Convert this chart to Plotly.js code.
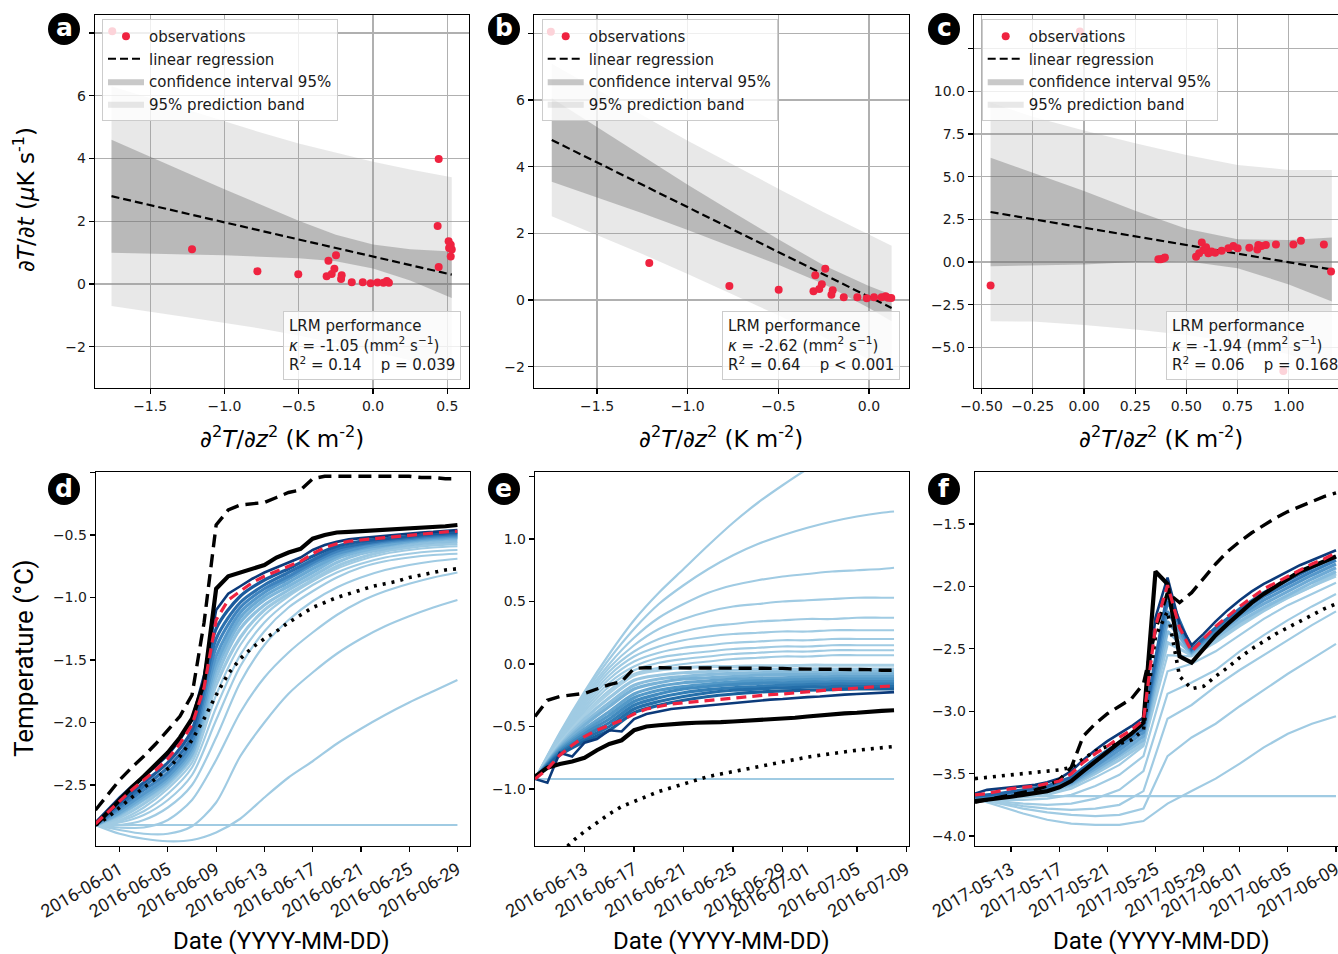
<!DOCTYPE html>
<html><head><meta charset="utf-8">
<script src="https://cdn.plot.ly/plotly-3.0.1.min.js"></script>
<style>html,body{margin:0;padding:0;background:#fff}#chart{width:1338px;height:954px}</style>
</head><body><div id="chart"></div>
<script>
// ================= Panel a =================
const a_obs_x = [-1.755,-1.218,-0.778,-0.503,-0.300,-0.249,-0.312,-0.278,-0.260,-0.211,-0.215,-0.143,-0.069,-0.016,0.030,0.070,0.093,0.107,0.442,0.435,0.442,0.509,0.523,0.530,0.512,0.523];
const a_obs_y = [8.05,1.11,0.41,0.31,0.74,0.92,0.25,0.32,0.49,0.28,0.16,0.06,0.06,0.03,0.05,0.04,0.10,0.04,3.98,1.85,0.54,1.36,1.25,1.10,1.15,0.88];
const a_band_x = [-1.76,-1.5,-1.25,-1.0,-0.75,-0.5,-0.25,0.0,0.25,0.53];
const a_fit    = [2.80,2.52,2.24,1.97,1.70,1.42,1.15,0.88,0.61,0.30];
const a_ci_hi  = [4.60,4.07,3.54,3.02,2.52,2.02,1.57,1.26,1.11,1.04];
const a_ci_lo  = [1.00,0.97,0.94,0.92,0.88,0.82,0.73,0.50,0.11,-0.44];
const a_pb_hi  = [6.30,5.92,5.54,5.17,4.82,4.48,4.18,3.90,3.65,3.40];
const a_pb_lo  = [-0.70,-0.88,-1.06,-1.23,-1.42,-1.64,-1.88,-2.14,-2.43,-2.80];
const a_xticks = [-1.5,-1.0,-0.5,0.0,0.5];
const a_xlabels = ['\u22121.5','\u22121.0','\u22120.5','0.0','0.5'];
const a_yticks = [-2,0,2,4,6,8];
const a_ylabels = ['\u22122','0','2','4','6',''];
const a_stats = ['-1.05','0.14','p = 0.039'];

// ================= Panel b =================
const b_obs_x = [-1.755,-1.212,-0.770,-0.498,-0.296,-0.241,-0.306,-0.274,-0.260,-0.200,-0.207,-0.139,-0.064,-0.012,0.028,0.070,0.092,0.105,0.123];
const b_obs_y = [8.05,1.11,0.42,0.31,0.74,0.94,0.26,0.33,0.47,0.29,0.16,0.08,0.08,0.05,0.08,0.08,0.11,0.07,0.06];
const b_band_x = [-1.75,-1.5,-1.25,-1.0,-0.75,-0.5,-0.25,0.0,0.125];
const b_fit    = [4.80,4.13,3.46,2.78,2.11,1.44,0.76,0.09,-0.24];
const b_ci_hi  = [6.05,5.18,4.32,3.46,2.63,1.82,1.04,0.42,0.16];
const b_ci_lo  = [3.55,3.08,2.60,2.10,1.59,1.06,0.48,-0.24,-0.64];
const b_pb_hi  = [7.09,6.31,5.54,4.78,4.05,3.34,2.63,1.95,1.63];
const b_pb_lo  = [2.51,1.95,1.38,0.78,0.17,-0.46,-1.11,-1.77,-2.11];
const b_xticks = [-1.5,-1.0,-0.5,0.0];
const b_xlabels = ['\u22121.5','\u22121.0','\u22120.5','0.0'];
const b_yticks = [-2,0,2,4,6,8];
const b_ylabels = ['\u22122','0','2','4','6',''];
const b_stats = ['-2.62','0.64','p &lt; 0.001'];

// ================= Panel c =================
const c_obs_x = [-0.02,0.973,-0.456,0.363,0.374,0.387,0.395,0.547,0.575,0.562,0.583,0.596,0.607,0.623,0.640,0.672,0.705,0.729,0.750,0.807,0.846,0.851,0.867,0.888,0.937,1.022,1.059,1.171,1.206];
const c_obs_y = [13.5,-6.39,-1.37,0.16,0.16,0.21,0.26,0.31,1.15,0.51,0.70,0.86,0.51,0.61,0.55,0.66,0.80,0.94,0.80,0.84,0.74,0.99,0.94,0.99,1.03,1.03,1.24,1.03,-0.56];
const c_band_x = [-0.456,-0.25,0.0,0.25,0.5,0.75,1.0,1.21];
const c_fit    = [2.93,2.51,2.01,1.50,1.00,0.49,-0.01,-0.44];
const c_ci_hi  = [6.11,5.21,4.16,3.00,1.95,1.34,1.29,1.43];
const c_ci_lo  = [-0.25,-0.19,-0.14,0.00,0.05,-0.36,-1.31,-2.31];
const c_pb_hi  = [9.33,8.51,7.71,6.95,6.27,5.69,5.39,5.39];
const c_pb_lo  = [-3.47,-3.49,-3.69,-3.95,-4.27,-4.71,-5.41,-6.27];
const c_xticks = [-0.5,-0.25,0.0,0.25,0.5,0.75,1.0];
const c_xlabels = ['\u22120.50','\u22120.25','0.00','0.25','0.50','0.75','1.00'];
const c_yticks = [-5,-2.5,0,2.5,5,7.5,10,12.5];
const c_ylabels = ['\u22125.0','\u22122.5','0.0','2.5','5.0','7.5','10.0',''];
const c_stats = ['-1.94','0.06','p = 0.168'];

// ================= Panel d =================
const d_dates = ['2016-05-30','2016-05-31','2016-06-01','2016-06-02','2016-06-03','2016-06-04','2016-06-05','2016-06-06','2016-06-07','2016-06-08','2016-06-09','2016-06-10','2016-06-11','2016-06-12','2016-06-13','2016-06-14','2016-06-15','2016-06-16','2016-06-17','2016-06-18','2016-06-19','2016-06-20','2016-06-21','2016-06-22','2016-06-23','2016-06-24','2016-06-25','2016-06-26','2016-06-27','2016-06-28','2016-06-29'];
const d_obs   = [-2.82,-2.72,-2.61,-2.52,-2.43,-2.34,-2.24,-2.12,-1.97,-1.68,-0.93,-0.83,-0.80,-0.77,-0.74,-0.68,-0.64,-0.61,-0.53,-0.50,-0.48,-0.475,-0.47,-0.465,-0.46,-0.455,-0.45,-0.445,-0.44,-0.43,-0.42];
const d_upper = [-2.70,-2.58,-2.46,-2.36,-2.27,-2.17,-2.06,-1.95,-1.78,-1.20,-0.42,-0.30,-0.26,-0.25,-0.24,-0.20,-0.16,-0.14,-0.05,-0.03,-0.03,-0.03,-0.03,-0.03,-0.03,-0.03,-0.03,-0.04,-0.04,-0.05,-0.05];
const d_lower = [-2.82,-2.76,-2.68,-2.60,-2.52,-2.45,-2.37,-2.27,-2.14,-1.97,-1.78,-1.61,-1.49,-1.40,-1.33,-1.27,-1.20,-1.14,-1.08,-1.04,-1.00,-0.97,-0.94,-0.91,-0.89,-0.87,-0.84,-0.82,-0.80,-0.78,-0.77];
const d_best  = [-2.81,-2.72,-2.63,-2.54,-2.46,-2.38,-2.29,-2.17,-2.02,-1.72,-1.18,-1.02,-0.95,-0.88,-0.83,-0.79,-0.75,-0.71,-0.65,-0.60,-0.57,-0.55,-0.54,-0.53,-0.52,-0.51,-0.50,-0.49,-0.48,-0.475,-0.47];
const d_navy  = [-2.80,-2.70,-2.60,-2.51,-2.43,-2.35,-2.26,-2.14,-1.98,-1.62,-1.10,-0.97,-0.91,-0.85,-0.80,-0.76,-0.72,-0.68,-0.62,-0.58,-0.555,-0.535,-0.525,-0.515,-0.505,-0.495,-0.49,-0.48,-0.475,-0.465,-0.46];
const d_sdates = ['2016-05-30','2016-06-01','2016-06-03','2016-06-05','2016-06-07','2016-06-09','2016-06-11','2016-06-13','2016-06-15','2016-06-17','2016-06-19','2016-06-21','2016-06-23','2016-06-25','2016-06-27','2016-06-29'];
const d_fan1 = [-2.81,-2.64,-2.48,-2.32,-2.06,-1.25,-0.99,-0.86,-0.77,-0.67,-0.59,-0.55,-0.53,-0.51,-0.49,-0.48];
const d_fan2 = [-2.81,-2.66,-2.51,-2.36,-2.11,-1.33,-1.04,-0.90,-0.80,-0.70,-0.61,-0.57,-0.54,-0.52,-0.50,-0.49];
const d_fan3 = [-2.82,-2.68,-2.54,-2.40,-2.15,-1.40,-1.08,-0.93,-0.83,-0.72,-0.63,-0.58,-0.55,-0.53,-0.51,-0.50];
const d_fan4 = [-2.82,-2.70,-2.57,-2.43,-2.19,-1.47,-1.12,-0.96,-0.85,-0.74,-0.65,-0.60,-0.56,-0.54,-0.52,-0.51];
const d_fan5 = [-2.82,-2.72,-2.59,-2.45,-2.22,-1.53,-1.16,-0.99,-0.88,-0.77,-0.67,-0.61,-0.58,-0.55,-0.53,-0.52];
const d_fan6 = [-2.82,-2.73,-2.61,-2.47,-2.25,-1.58,-1.20,-1.02,-0.91,-0.80,-0.69,-0.63,-0.59,-0.56,-0.54,-0.53];
const d_fan7 = [-2.82,-2.74,-2.62,-2.48,-2.26,-1.64,-1.25,-1.06,-0.94,-0.83,-0.72,-0.65,-0.61,-0.58,-0.56,-0.55];
const d_fan8 = [-2.82,-2.76,-2.65,-2.50,-2.28,-1.70,-1.32,-1.10,-0.97,-0.86,-0.75,-0.68,-0.63,-0.60,-0.58,-0.57];
const d_ens1 = [-2.82,-2.78,-2.68,-2.53,-2.32,-1.78,-1.38,-1.14,-0.99,-0.87,-0.77,-0.70,-0.65,-0.62,-0.60,-0.59];
const d_ens2 = [-2.82,-2.79,-2.71,-2.57,-2.36,-1.88,-1.46,-1.20,-1.03,-0.90,-0.80,-0.73,-0.68,-0.65,-0.63,-0.62];
const d_ens3 = [-2.82,-2.80,-2.74,-2.62,-2.42,-1.98,-1.55,-1.27,-1.08,-0.95,-0.84,-0.76,-0.71,-0.68,-0.66,-0.65];
const d_ens4 = [-2.82,-2.82,-2.78,-2.68,-2.50,-2.12,-1.68,-1.38,-1.18,-1.03,-0.92,-0.84,-0.78,-0.74,-0.71,-0.69];
const d_ens5 = [-2.82,-2.84,-2.84,-2.78,-2.62,-2.30,-1.92,-1.64,-1.44,-1.28,-1.14,-1.03,-0.95,-0.89,-0.84,-0.80];
const d_ens6 = [-2.82,-2.86,-2.89,-2.89,-2.83,-2.64,-2.27,-2.00,-1.77,-1.60,-1.45,-1.33,-1.23,-1.15,-1.08,-1.02];
const d_ens7 = [-2.82,-2.89,-2.93,-2.95,-2.94,-2.88,-2.77,-2.60,-2.44,-2.31,-2.17,-2.05,-1.94,-1.84,-1.75,-1.66];
const d_ens8 = [-2.82,-2.82,-2.82,-2.82,-2.82,-2.82,-2.82,-2.82,-2.82,-2.82,-2.82,-2.82,-2.82,-2.82,-2.82,-2.82];
const d_xticks = ['2016-06-01','2016-06-05','2016-06-09','2016-06-13','2016-06-17','2016-06-21','2016-06-25','2016-06-29'];
const d_yticks = [-2.5,-2.0,-1.5,-1.0,-0.5,0.0];
const d_ylabels = ['\u22122.5','\u22122.0','\u22121.5','\u22121.0','\u22120.5',''];

// ================= Panel e =================
const e_dates = ['2016-06-09','2016-06-10','2016-06-11','2016-06-12','2016-06-13','2016-06-14','2016-06-15','2016-06-16','2016-06-17','2016-06-18','2016-06-19','2016-06-20','2016-06-21','2016-06-22','2016-06-23','2016-06-24','2016-06-25','2016-06-26','2016-06-27','2016-06-28','2016-06-29','2016-06-30','2016-07-01','2016-07-02','2016-07-03','2016-07-04','2016-07-05','2016-07-06','2016-07-07','2016-07-08'];
const e_obs   = [-0.90,-0.83,-0.80,-0.78,-0.75,-0.69,-0.64,-0.61,-0.53,-0.50,-0.49,-0.48,-0.475,-0.47,-0.47,-0.465,-0.46,-0.455,-0.45,-0.44,-0.435,-0.43,-0.42,-0.41,-0.40,-0.395,-0.39,-0.38,-0.375,-0.37];
const e_upper = [-0.42,-0.29,-0.26,-0.245,-0.235,-0.20,-0.165,-0.14,-0.035,-0.03,-0.03,-0.03,-0.03,-0.03,-0.03,-0.03,-0.03,-0.035,-0.035,-0.035,-0.035,-0.04,-0.04,-0.04,-0.04,-0.04,-0.045,-0.045,-0.05,-0.05];
const e_lower = [-1.80,-1.64,-1.52,-1.42,-1.34,-1.27,-1.20,-1.14,-1.10,-1.06,-1.02,-0.99,-0.96,-0.93,-0.90,-0.88,-0.86,-0.84,-0.82,-0.80,-0.78,-0.76,-0.745,-0.73,-0.715,-0.70,-0.69,-0.68,-0.67,-0.66];
const e_best  = [-0.92,-0.84,-0.73,-0.65,-0.58,-0.53,-0.49,-0.45,-0.40,-0.36,-0.34,-0.32,-0.31,-0.30,-0.29,-0.28,-0.27,-0.26,-0.25,-0.245,-0.24,-0.23,-0.22,-0.21,-0.205,-0.20,-0.19,-0.185,-0.18,-0.175];
const e_navy  = [-0.92,-0.95,-0.71,-0.74,-0.63,-0.60,-0.53,-0.54,-0.44,-0.40,-0.38,-0.36,-0.35,-0.34,-0.33,-0.32,-0.31,-0.30,-0.29,-0.285,-0.28,-0.27,-0.265,-0.26,-0.25,-0.245,-0.24,-0.235,-0.23,-0.225];
const e_sdates = ['2016-06-09','2016-06-11','2016-06-13','2016-06-15','2016-06-17','2016-06-19','2016-06-21','2016-06-23','2016-06-25','2016-06-27','2016-06-29','2016-07-01','2016-07-03','2016-07-05','2016-07-07','2016-07-08'];
const e_ens1  = [-0.92,-0.55,-0.22,0.08,0.35,0.57,0.76,0.95,1.13,1.29,1.43,1.56,1.67,1.77,1.85,1.89];
const e_ens2  = [-0.92,-0.56,-0.24,0.04,0.28,0.48,0.63,0.76,0.87,0.96,1.03,1.09,1.14,1.18,1.21,1.22];
const e_ens3  = [-0.92,-0.57,-0.26,0.00,0.21,0.37,0.48,0.57,0.63,0.67,0.70,0.72,0.74,0.75,0.76,0.77];
const e_ens4  = [-0.92,-0.58,-0.28,-0.03,0.15,0.28,0.36,0.42,0.46,0.48,0.50,0.51,0.52,0.53,0.53,0.53];
const e_ens5  = [-0.92,-0.59,-0.30,-0.06,0.10,0.20,0.26,0.30,0.32,0.34,0.35,0.36,0.36,0.37,0.37,0.37];
const e_ens6  = [-0.92,-0.60,-0.32,-0.09,0.06,0.14,0.19,0.22,0.24,0.25,0.26,0.26,0.27,0.27,0.27,0.27];
const e_ens7  = [-0.92,-0.61,-0.34,-0.12,0.02,0.09,0.13,0.15,0.17,0.18,0.19,0.19,0.20,0.20,0.20,0.20];
const e_ens8  = [-0.92,-0.62,-0.36,-0.15,-0.02,0.05,0.08,0.10,0.12,0.13,0.14,0.14,0.15,0.15,0.15,0.15];
const e_ens9  = [-0.92,-0.63,-0.38,-0.18,-0.05,0.01,0.04,0.06,0.08,0.09,0.10,0.10,0.11,0.11,0.11,0.11];
const e_ens10 = [-0.92,-0.64,-0.40,-0.21,-0.08,-0.03,0.00,0.02,0.04,0.05,0.06,0.06,0.07,0.07,0.07,0.07];
const e_ens11 = [-0.92,-0.92,-0.92,-0.92,-0.92,-0.92,-0.92,-0.92,-0.92,-0.92,-0.92,-0.92,-0.92,-0.92,-0.92,-0.92];
const e_fan1  = [-0.92,-0.64,-0.41,-0.23,-0.09,-0.05,-0.03,-0.02,-0.02,-0.015,-0.015,-0.01,-0.01,-0.01,-0.01,-0.01];
const e_fan2  = [-0.92,-0.65,-0.44,-0.27,-0.13,-0.09,-0.07,-0.06,-0.05,-0.045,-0.045,-0.04,-0.04,-0.04,-0.04,-0.04];
const e_fan3  = [-0.92,-0.66,-0.47,-0.31,-0.17,-0.12,-0.10,-0.085,-0.075,-0.07,-0.065,-0.065,-0.06,-0.06,-0.06,-0.06];
const e_fan4  = [-0.92,-0.67,-0.49,-0.34,-0.20,-0.15,-0.12,-0.11,-0.10,-0.09,-0.085,-0.085,-0.08,-0.08,-0.08,-0.08];
const e_fan5  = [-0.92,-0.68,-0.52,-0.38,-0.24,-0.18,-0.15,-0.135,-0.12,-0.115,-0.11,-0.105,-0.10,-0.10,-0.10,-0.10];
const e_fan6  = [-0.92,-0.69,-0.54,-0.41,-0.27,-0.21,-0.18,-0.16,-0.145,-0.135,-0.13,-0.125,-0.12,-0.12,-0.12,-0.12];
const e_fan7  = [-0.92,-0.70,-0.56,-0.44,-0.30,-0.24,-0.20,-0.18,-0.165,-0.155,-0.15,-0.145,-0.14,-0.14,-0.14,-0.14];
const e_fan8  = [-0.92,-0.71,-0.58,-0.47,-0.33,-0.27,-0.23,-0.205,-0.19,-0.18,-0.17,-0.165,-0.16,-0.16,-0.16,-0.16];
const e_fan9  = [-0.92,-0.72,-0.60,-0.50,-0.36,-0.30,-0.26,-0.23,-0.21,-0.20,-0.19,-0.185,-0.18,-0.18,-0.18,-0.18];
const e_fan10 = [-0.92,-0.73,-0.62,-0.53,-0.39,-0.33,-0.29,-0.26,-0.24,-0.225,-0.215,-0.21,-0.205,-0.20,-0.20,-0.20];
const e_xticks = ['2016-06-13','2016-06-17','2016-06-21','2016-06-25','2016-06-29','2016-07-01','2016-07-05','2016-07-09'];
const e_yticks = [-1.0,-0.5,0.0,0.5,1.0,1.5];
const e_ylabels = ['\u22121.0','\u22120.5','0.0','0.5','1.0',''];

// ================= Panel f =================
const f_dates = ['2017-05-10','2017-05-11','2017-05-12','2017-05-13','2017-05-14','2017-05-15','2017-05-16','2017-05-17','2017-05-18','2017-05-19','2017-05-20','2017-05-21','2017-05-22','2017-05-23','2017-05-24','2017-05-25','2017-05-26','2017-05-27','2017-05-28','2017-05-29','2017-05-30','2017-05-31','2017-06-01','2017-06-02','2017-06-03','2017-06-04','2017-06-05','2017-06-06','2017-06-07','2017-06-08','2017-06-09'];
const f_obs   = [-3.72,-3.71,-3.70,-3.685,-3.67,-3.655,-3.64,-3.61,-3.56,-3.48,-3.40,-3.33,-3.25,-3.18,-3.09,-1.88,-1.98,-2.56,-2.61,-2.50,-2.39,-2.30,-2.21,-2.13,-2.06,-2.00,-1.94,-1.88,-1.84,-1.80,-1.76];
const f_upper = [-3.73,-3.71,-3.69,-3.67,-3.65,-3.63,-3.60,-3.55,-3.45,-3.20,-3.10,-3.02,-2.96,-2.90,-2.78,-2.35,-2.05,-2.13,-2.05,-1.93,-1.82,-1.72,-1.64,-1.57,-1.51,-1.45,-1.40,-1.36,-1.32,-1.28,-1.25];
const f_lower = [-3.54,-3.53,-3.52,-3.51,-3.50,-3.49,-3.48,-3.47,-3.45,-3.38,-3.32,-3.28,-3.26,-3.23,-3.15,-2.40,-2.20,-2.72,-2.82,-2.80,-2.72,-2.65,-2.57,-2.50,-2.44,-2.38,-2.33,-2.28,-2.23,-2.18,-2.14];
const f_best  = [-3.67,-3.66,-3.64,-3.62,-3.61,-3.60,-3.58,-3.56,-3.50,-3.41,-3.34,-3.28,-3.21,-3.15,-3.07,-2.32,-1.99,-2.33,-2.52,-2.42,-2.32,-2.24,-2.16,-2.09,-2.02,-1.97,-1.92,-1.87,-1.82,-1.78,-1.73];
const f_navy  = [-3.66,-3.63,-3.62,-3.61,-3.60,-3.59,-3.57,-3.54,-3.48,-3.39,-3.31,-3.24,-3.18,-3.12,-3.05,-2.25,-1.93,-2.30,-2.47,-2.38,-2.28,-2.19,-2.11,-2.04,-1.98,-1.93,-1.88,-1.83,-1.79,-1.75,-1.71];
const f_sdates = ['2017-05-10','2017-05-12','2017-05-14','2017-05-16','2017-05-18','2017-05-20','2017-05-22','2017-05-24','2017-05-26','2017-05-28','2017-05-30','2017-06-01','2017-06-03','2017-06-05','2017-06-07','2017-06-09'];
const f_fan1 = [-3.68,-3.66,-3.63,-3.60,-3.53,-3.38,-3.25,-3.11,-2.05,-2.50,-2.33,-2.18,-2.05,-1.95,-1.85,-1.76];
const f_fan2 = [-3.69,-3.67,-3.64,-3.61,-3.55,-3.41,-3.28,-3.14,-2.12,-2.51,-2.35,-2.20,-2.08,-1.98,-1.88,-1.79];
const f_fan3 = [-3.69,-3.68,-3.65,-3.62,-3.57,-3.44,-3.31,-3.17,-2.20,-2.52,-2.37,-2.23,-2.11,-2.01,-1.91,-1.82];
const f_fan4 = [-3.70,-3.68,-3.66,-3.63,-3.58,-3.46,-3.34,-3.20,-2.28,-2.53,-2.39,-2.25,-2.14,-2.04,-1.94,-1.85];
const f_fan5 = [-3.70,-3.69,-3.67,-3.64,-3.59,-3.48,-3.36,-3.23,-2.36,-2.54,-2.41,-2.28,-2.17,-2.07,-1.97,-1.88];
const f_fan6 = [-3.70,-3.69,-3.68,-3.65,-3.60,-3.50,-3.39,-3.26,-2.45,-2.55,-2.43,-2.30,-2.19,-2.09,-2.00,-1.90];
const f_ens1 = [-3.70,-3.70,-3.69,-3.67,-3.62,-3.53,-3.43,-3.28,-2.55,-2.56,-2.45,-2.32,-2.20,-2.09,-2.00,-1.92];
const f_ens2 = [-3.70,-3.71,-3.71,-3.70,-3.67,-3.60,-3.51,-3.36,-2.68,-2.62,-2.52,-2.39,-2.26,-2.15,-2.06,-1.97];
const f_ens3 = [-3.70,-3.72,-3.74,-3.75,-3.74,-3.70,-3.63,-3.48,-2.86,-2.77,-2.67,-2.52,-2.39,-2.27,-2.16,-2.06];
const f_ens4 = [-3.70,-3.73,-3.76,-3.78,-3.79,-3.78,-3.75,-3.64,-3.06,-2.95,-2.80,-2.67,-2.55,-2.43,-2.31,-2.20];
const f_ens5 = [-3.70,-3.74,-3.78,-3.81,-3.83,-3.84,-3.83,-3.78,-3.36,-3.21,-3.10,-2.96,-2.83,-2.70,-2.58,-2.46];
const f_ens6 = [-3.70,-3.76,-3.82,-3.87,-3.90,-3.91,-3.91,-3.88,-3.74,-3.64,-3.54,-3.42,-3.29,-3.18,-3.10,-3.04];
const f_ens7 = [-3.68,-3.68,-3.68,-3.68,-3.68,-3.68,-3.68,-3.68,-3.68,-3.68,-3.68,-3.68,-3.68,-3.68,-3.68,-3.68];
const f_xticks = ['2017-05-13','2017-05-17','2017-05-21','2017-05-25','2017-05-29','2017-06-01','2017-06-05','2017-06-09'];
const f_yticks = [-4.0,-3.5,-3.0,-2.5,-2.0,-1.5];
const f_ylabels = ['\u22124.0','\u22123.5','\u22123.0','\u22122.5','\u22122.0','\u22121.5'];

// ================= styling =================
const W = 1338, H = 954;
const RED = '#ef2340';
const LIGHT = '#a0cbe3';
const TICKFONT = {family:'DejaVu Sans', size:14, color:'#1a1a1a'};
const px = v => v / W;
const py = v => 1 - v / H;

const traces = [];
const legends = ['legend','legend2','legend3'];

function topPanel(i, ox, oy, bx, fit, cilo, cihi, pblo, pbhi) {
  const xa = i === 1 ? 'x' : 'x' + i, ya = i === 1 ? 'y' : 'y' + i;
  const lg = legends[i - 1];
  const rx = bx.slice().reverse();
  traces.push({type:'scatter', mode:'lines', x: bx.concat(rx), y: pbhi.concat(pblo.slice().reverse()),
    fill:'toself', fillcolor:'rgba(150,150,150,0.22)', line:{width:0}, xaxis:xa, yaxis:ya,
    name:'95% prediction band', legend:lg, legendrank:4, hoverinfo:'skip'});
  traces.push({type:'scatter', mode:'lines', x: bx.concat(rx), y: cihi.concat(cilo.slice().reverse()),
    fill:'toself', fillcolor:'rgba(90,90,90,0.33)', line:{width:0}, xaxis:xa, yaxis:ya,
    name:'confidence interval 95%', legend:lg, legendrank:3, hoverinfo:'skip'});
  traces.push({type:'scatter', mode:'lines', x: bx, y: fit, line:{color:'#000', width:2.2, dash:'8px,4px'},
    xaxis:xa, yaxis:ya, name:'linear regression', legend:lg, legendrank:2, hoverinfo:'skip'});
  traces.push({type:'scatter', mode:'markers', x: ox, y: oy, marker:{color:RED, size:8},
    xaxis:xa, yaxis:ya, name:'observations', legend:lg, legendrank:1, hoverinfo:'skip'});
}
topPanel(1, a_obs_x, a_obs_y, a_band_x, a_fit, a_ci_lo, a_ci_hi, a_pb_lo, a_pb_hi);
topPanel(2, b_obs_x, b_obs_y, b_band_x, b_fit, b_ci_lo, b_ci_hi, b_pb_lo, b_pb_hi);
topPanel(3, c_obs_x, c_obs_y, c_band_x, c_fit, c_ci_lo, c_ci_hi, c_pb_lo, c_pb_hi);

function ln(i, x, y, color, width, dash, shape) {
  traces.push({type:'scatter', mode:'lines', x, y, xaxis:'x'+i, yaxis:'y'+i, showlegend:false, hoverinfo:'skip',
    line:{color, width, dash: dash || 'solid', shape: shape || 'linear', smoothing: 0.8}});
}
function bottomPanel(i, dates, sdates, ens, fan, fanCols, navy, lower, upper, obs, best, shape) {
  ens.forEach(e => ln(i, sdates, e, LIGHT, 2.2, null, shape));
  fan.forEach((f, k) => ln(i, sdates, f, fanCols[k], 3.2, null, shape));
  ln(i, dates, navy, '#0b3a7a', 2.6);
  ln(i, dates, lower, '#000', 3.6, '3px,6px');
  ln(i, dates, upper, '#000', 3.4, '13px,7px');
  ln(i, dates, obs, '#000', 4.2);
  ln(i, dates, best, RED, 3.2, '10px,6px');
}
const fanColsD = ['#9bc8e2','#8ec0df','#7db6db','#6aa9d4','#5598cb','#3f84bf','#2b6fae','#1a5a9c'];
bottomPanel(4, d_dates, d_sdates,
  [d_ens8, d_ens7, d_ens6, d_ens5, d_ens4, d_ens3, d_ens2, d_ens1],
  [d_fan8, d_fan7, d_fan6, d_fan5, d_fan4, d_fan3, d_fan2, d_fan1], fanColsD,
  d_navy, d_lower, d_upper, d_obs, d_best, 'spline');
const fanColsE = ['#a7cfe5','#98c6e1','#88bcdc','#77b1d6','#65a5cf','#5399c8','#428bbf','#327db5','#246ea9','#19609c'];
bottomPanel(5, e_dates, e_sdates,
  [e_ens11, e_ens1, e_ens2, e_ens3, e_ens4, e_ens5, e_ens6, e_ens7, e_ens8, e_ens9, e_ens10],
  [e_fan1, e_fan2, e_fan3, e_fan4, e_fan5, e_fan6, e_fan7, e_fan8, e_fan9, e_fan10], fanColsE,
  e_navy, e_lower, e_upper, e_obs, e_best, 'spline');
const fanColsF = ['#9bc8e2','#86bbdd','#6eaad5','#5597ca','#3c81bd','#2569a9'];
bottomPanel(6, f_dates, f_sdates,
  [f_ens7, f_ens6, f_ens5, f_ens4, f_ens3, f_ens2, f_ens1],
  [f_fan6, f_fan5, f_fan4, f_fan3, f_fan2, f_fan1], fanColsF,
  f_navy, f_lower, f_upper, f_obs, f_best, 'linear');

// ================= axes =================
const axBase = {showline:true, linecolor:'#000', linewidth:1.3, mirror:true, ticks:'outside', ticklen:5,
  tickwidth:1.2, tickcolor:'#000', zeroline:false, tickfont:TICKFONT, fixedrange:true, tickmode:'array',
  ticklabeloverflow:'allow'};
function ax(extra) { return Object.assign({}, axBase, extra); }
const topY = [py(388), py(15)], botY = [py(846), py(472)];
const grid = {showgrid:true, gridcolor:'#b0b0b0', gridwidth:1.2};
const nogrid = {showgrid:false};
const dateTick = {type:'date', tickangle:-30, tickfont:{family:'Roboto', size:18, color:'#1a1a1a'}};

const layout = {
  width: W, height: H, margin:{l:0, r:0, t:0, b:0}, paper_bgcolor:'#fff', plot_bgcolor:'#fff',
  xaxis:  ax(Object.assign({domain:[px(95), px(469)], range:[-1.871, 0.646], anchor:'y', tickvals:a_xticks, ticktext:a_xlabels}, grid)),
  yaxis:  ax(Object.assign({domain:topY, range:[-3.31, 8.57], anchor:'x', tickvals:a_yticks, ticktext:a_ylabels}, grid)),
  xaxis2: ax(Object.assign({domain:[px(534), px(909)], range:[-1.848, 0.221], anchor:'y2', tickvals:b_xticks, ticktext:b_xlabels}, grid)),
  yaxis2: ax(Object.assign({domain:topY, range:[-2.64, 8.55], anchor:'x2', tickvals:b_yticks, ticktext:b_ylabels}, grid)),
  xaxis3: ax(Object.assign({domain:[px(974), 1], range:[-0.537, 1.240], anchor:'y3', tickvals:c_xticks, ticktext:c_xlabels}, grid)),
  yaxis3: ax(Object.assign({domain:topY, range:[-7.38, 14.47], anchor:'x3', tickvals:c_yticks, ticktext:c_ylabels}, grid)),
  xaxis4: ax(Object.assign({domain:[px(96), px(470)], range:['2016-05-30 01:00','2016-06-30 01:00'], anchor:'y4', tickvals:d_xticks, ticktext:d_xticks}, nogrid, dateTick)),
  yaxis4: ax(Object.assign({domain:botY, range:[-2.988, 0.004], anchor:'x4', tickvals:d_yticks, ticktext:d_ylabels}, nogrid)),
  xaxis5: ax(Object.assign({domain:[px(535), px(909)], range:['2016-06-09 00:00','2016-07-09 05:00'], anchor:'y5', tickvals:e_xticks, ticktext:e_xticks}, nogrid, dateTick)),
  yaxis5: ax(Object.assign({domain:botY, range:[-1.456, 1.536], anchor:'x5', tickvals:e_yticks, ticktext:e_ylabels}, nogrid)),
  xaxis6: ax(Object.assign({domain:[px(975), 1], range:['2017-05-10 00:00','2017-06-09 04:00'], anchor:'y6', tickvals:f_xticks, ticktext:f_xticks}, nogrid, dateTick)),
  yaxis6: ax(Object.assign({domain:botY, range:[-4.08, -1.083], anchor:'x6', tickvals:f_yticks, ticktext:f_ylabels}, nogrid)),
  shapes: [], annotations: []
};
const legBase = {xanchor:'left', yanchor:'top', y: py(19), bgcolor:'rgba(255,255,255,0.8)', bordercolor:'#cccccc',
  borderwidth:1, font:{family:'DejaVu Sans', size:15, color:'#1a1a1a'}, itemwidth:36, traceorder:'normal'};
layout.legend  = Object.assign({x: px(102)}, legBase);
layout.legend2 = Object.assign({x: px(541.7)}, legBase);
layout.legend3 = Object.assign({x: px(981.7)}, legBase);

// LRM boxes
function lrm(stats, x, anchor) {
  layout.annotations.push({xref:'paper', yref:'paper', x: px(x), y: py(380), xanchor:anchor, yanchor:'bottom',
    align:'left', showarrow:false, bgcolor:'rgba(255,255,255,0.8)', bordercolor:'#cccccc', borderwidth:1, borderpad:5,
    font:{family:'DejaVu Sans', size:15, color:'#1a1a1a'},
    text: 'LRM performance<br><i>\u03ba</i> = ' + stats[0] + ' (mm<sup>2</sup> s<sup>\u22121</sup>)<br>R<sup>2</sup> = ' + stats[1] + '\u00a0\u00a0\u00a0 ' + stats[2]});
}
lrm(a_stats, 461, 'right');
lrm(b_stats, 900, 'right');
lrm(c_stats, 1166, 'left');

// badges
[['a',64,29],['b',504,29],['c',944,29],['d',64,489],['e',504,489],['f',944,489]].forEach(([t,cx,cy]) => {
  layout.shapes.push({type:'circle', xref:'paper', yref:'paper', x0:px(cx-16), x1:px(cx+16), y0:py(cy+16), y1:py(cy-16),
    fillcolor:'#000', line:{width:0}, layer:'above'});
  layout.annotations.push({xref:'paper', yref:'paper', x:px(cx), y:py(cy-1), xanchor:'center', yanchor:'middle', showarrow:false,
    text:'<b>'+t+'</b>', font:{family:'DejaVu Sans', size:25, color:'#fff'}});
});

// axis titles
const xTitleTop = '<i>\u2202</i><sup>2</sup><i>T</i>/<i>\u2202z</i><sup>2</sup> (K m<sup>-2</sup>)';
[282, 721, 1161].forEach(cx => layout.annotations.push({xref:'paper', yref:'paper', x:px(cx), y:py(437), xanchor:'center', yanchor:'middle',
  showarrow:false, text:xTitleTop, font:{family:'DejaVu Sans', size:23, color:'#000'}}));
[281, 721, 1161].forEach(cx => layout.annotations.push({xref:'paper', yref:'paper', x:px(cx), y:py(941), xanchor:'center', yanchor:'middle',
  showarrow:false, text:'Date (YYYY-MM-DD)', font:{family:'Roboto', size:24, color:'#000'}}));
layout.annotations.push({xref:'paper', yref:'paper', x:px(24), y:py(200), xanchor:'center', yanchor:'middle', textangle:-90,
  showarrow:false, text:'<i>\u2202T</i>/<i>\u2202t</i> (<i>\u03bc</i>K s<sup>-1</sup>)', font:{family:'DejaVu Sans', size:23, color:'#000'}});
layout.annotations.push({xref:'paper', yref:'paper', x:px(24), y:py(658), xanchor:'center', yanchor:'middle', textangle:-90,
  showarrow:false, text:'Temperature (\u00b0C)', font:{family:'Roboto', size:26, color:'#000'}});

Plotly.newPlot('chart', traces, layout, {displayModeBar:false, staticPlot:true});
</script></body></html>
